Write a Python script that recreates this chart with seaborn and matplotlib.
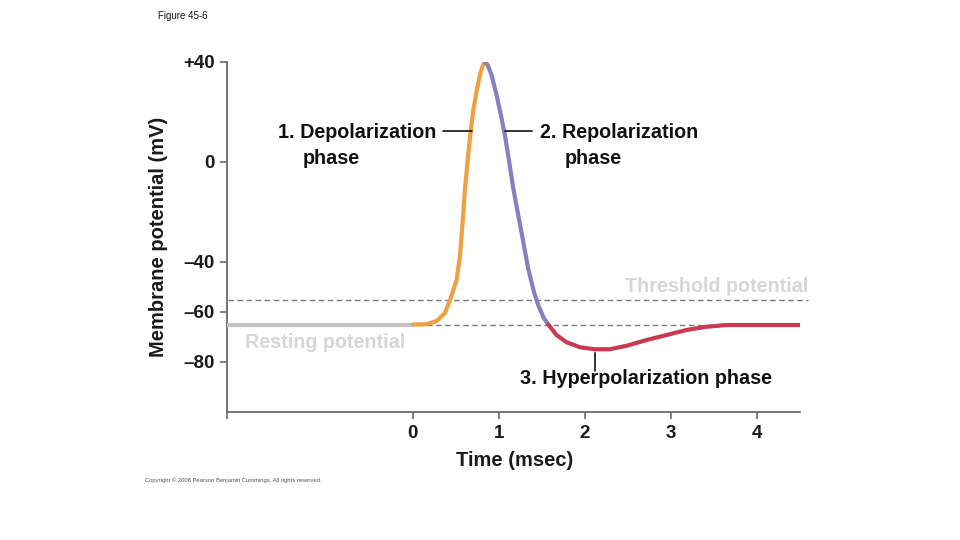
import matplotlib
matplotlib.use("Agg")
import matplotlib.pyplot as plt
import seaborn as sns
import pandas as pd

# ---- data ----
rest_t = [-2.16, 0.0]
rest_v = [-65, -65]
depol_t = [0.0, 0.159, 0.275, 0.372, 0.435, 0.508, 0.547, 0.578, 0.605, 0.643,
           0.67, 0.70, 0.74, 0.78, 0.81, 0.837]
depol_v = [-65, -64.9, -63.6, -60.5, -55.0, -47.2, -37.9, -24.5, -11.2, 2.8,
           11.5, 20.1, 28.1, 34.8, 38.3, 40]
repol_t = [0.837, 0.87, 0.915, 0.973, 1.031, 1.07, 1.12, 1.167, 1.225, 1.283,
           1.34, 1.407, 1.457, 1.523, 1.574]
repol_v = [40, 38.8, 34.8, 26.8, 17.5, 10.8, 0.1, -10.5, -21.2, -31.9,
           -42.5, -51.9, -57.2, -62.5, -65.0]
hyper_t = [1.574, 1.67, 1.787, 1.942, 2.116, 2.29, 2.485, 2.717, 2.95, 3.18,
           3.415, 3.648, 4.5]
hyper_v = [-65.0, -69.2, -72.1, -74.1, -74.9, -74.9, -73.5, -71.2, -69.2, -67.2,
           -65.9, -65.2, -65.2]

threshold_mv = -55
resting_mv = -65

x_ticks = [-2.16, 0, 1, 2, 3, 4]
x_ticklabels = ["", "0", "1", "2", "3", "4"]
y_ticks = [40, 0, -40, -60, -80]
y_ticklabels = ["+40", "0", "\u201340", "\u201360", "\u201380"]

phase_colors = {
    "rest": "#c4c4c4",
    "depol": "#eea043",
    "repol": "#8580c0",
    "hyper": "#c83a52",
}

frames = []
for name, t, v in [("rest", rest_t, rest_v), ("depol", depol_t, depol_v),
                   ("repol", repol_t, repol_v), ("hyper", hyper_t, hyper_v)]:
    frames.append(pd.DataFrame({"t": t, "v": v, "phase": name}))
df = pd.concat(frames, ignore_index=True)

sns.set_theme(style="white")
plt.rcParams["font.family"] = ["Liberation Sans", "DejaVu Sans"]

fig = plt.figure(figsize=(9.6, 5.4), dpi=100)
ax = fig.add_axes([227 / 960, 1 - 412 / 540, (800 - 227) / 960, (412 - 62) / 540])

# dashed reference lines
ax.plot([-2.15, 4.59], [threshold_mv, threshold_mv], ls=(0, (4, 2.5)), color="#7a7a7a",
        lw=1.0, zorder=1, clip_on=False)
ax.plot([-2.15, 3.55], [resting_mv, resting_mv], ls=(0, (4, 2.5)), color="#7a7a7a",
        lw=1.0, zorder=1, clip_on=False)

sns.lineplot(data=df, x="t", y="v", hue="phase", palette=phase_colors,
             estimator=None, sort=False, lw=3.0, legend=False, ax=ax, zorder=3)
for line in ax.lines[2:]:
    line.set_solid_capstyle("round")
    line.set_solid_joinstyle("round")

ax.set_xlim(-2.16, 4.5)
ax.set_ylim(-100, 40)
ax.set_xticks(x_ticks)
ax.set_xticklabels(x_ticklabels)
ax.set_yticks(y_ticks)
ax.set_yticklabels(y_ticklabels)

for s in ["top", "right"]:
    ax.spines[s].set_visible(False)
for s in ["left", "bottom"]:
    ax.spines[s].set_color("#6a6a6a")
    ax.spines[s].set_linewidth(1.3)

ax.tick_params(axis="both", which="major", direction="out", length=5, width=1.2,
               color="#6a6a6a", labelsize=13.5, pad=4, labelcolor="#1a1a1a",
               left=True, bottom=True)
for lab in ax.get_xticklabels() + ax.get_yticklabels():
    lab.set_fontweight("bold")

ax.set_xlabel("Time (msec)", fontsize=14.5, fontweight="bold", color="#1a1a1a", va="center")
ax.set_ylabel("Membrane potential (mV)", fontsize=14.5, fontweight="bold", color="#1a1a1a",
              va="center")
ax.xaxis.set_label_coords((515 - 227) / 573, -(461 - 412) / 350)
ax.yaxis.set_label_coords((158 - 227) / 573, (412 - 237) / 350)

tkw = dict(fontsize=14.2, fontweight="bold", va="center", ha="left")
ax.text(-1.57, 11.6, "1. Depolarization", color="#111111", **tkw)
ax.text(-1.28, 1.6, "phase", color="#111111", **tkw)
ax.text(1.477, 11.6, "2. Repolarization", color="#111111", **tkw)
ax.text(1.767, 1.6, "phase", color="#111111", **tkw)
ax.text(2.465, -50, "Threshold potential", color="#d6d6d6", clip_on=False, **tkw)
ax.text(-1.953, -72.4, "Resting potential", color="#d6d6d6", **tkw)
ax.text(1.244, -86.8, "3. Hyperpolarization phase", color="#111111", **tkw)

# connector lines
ax.plot([0.35, 0.686], [12.4, 12.4], color="#111111", lw=1.2, zorder=4)
ax.plot([1.07, 1.384], [12.4, 12.4], color="#111111", lw=1.2, zorder=4)
ax.plot([2.116, 2.116], [-76.2, -83.6], color="#111111", lw=1.2, zorder=4)

fig.text(158 / 960, 1 - 16 / 540, "Figure 45-6", fontsize=7, va="center", ha="left", color="#111111")
fig.text(145 / 960, 1 - 480 / 540,
         "Copyright \u00a9 2008 Pearson Benjamin Cummings. All rights reserved.",
         fontsize=4.2, va="center", ha="left", color="#555555")

fig.savefig("out.png", dpi=100)
